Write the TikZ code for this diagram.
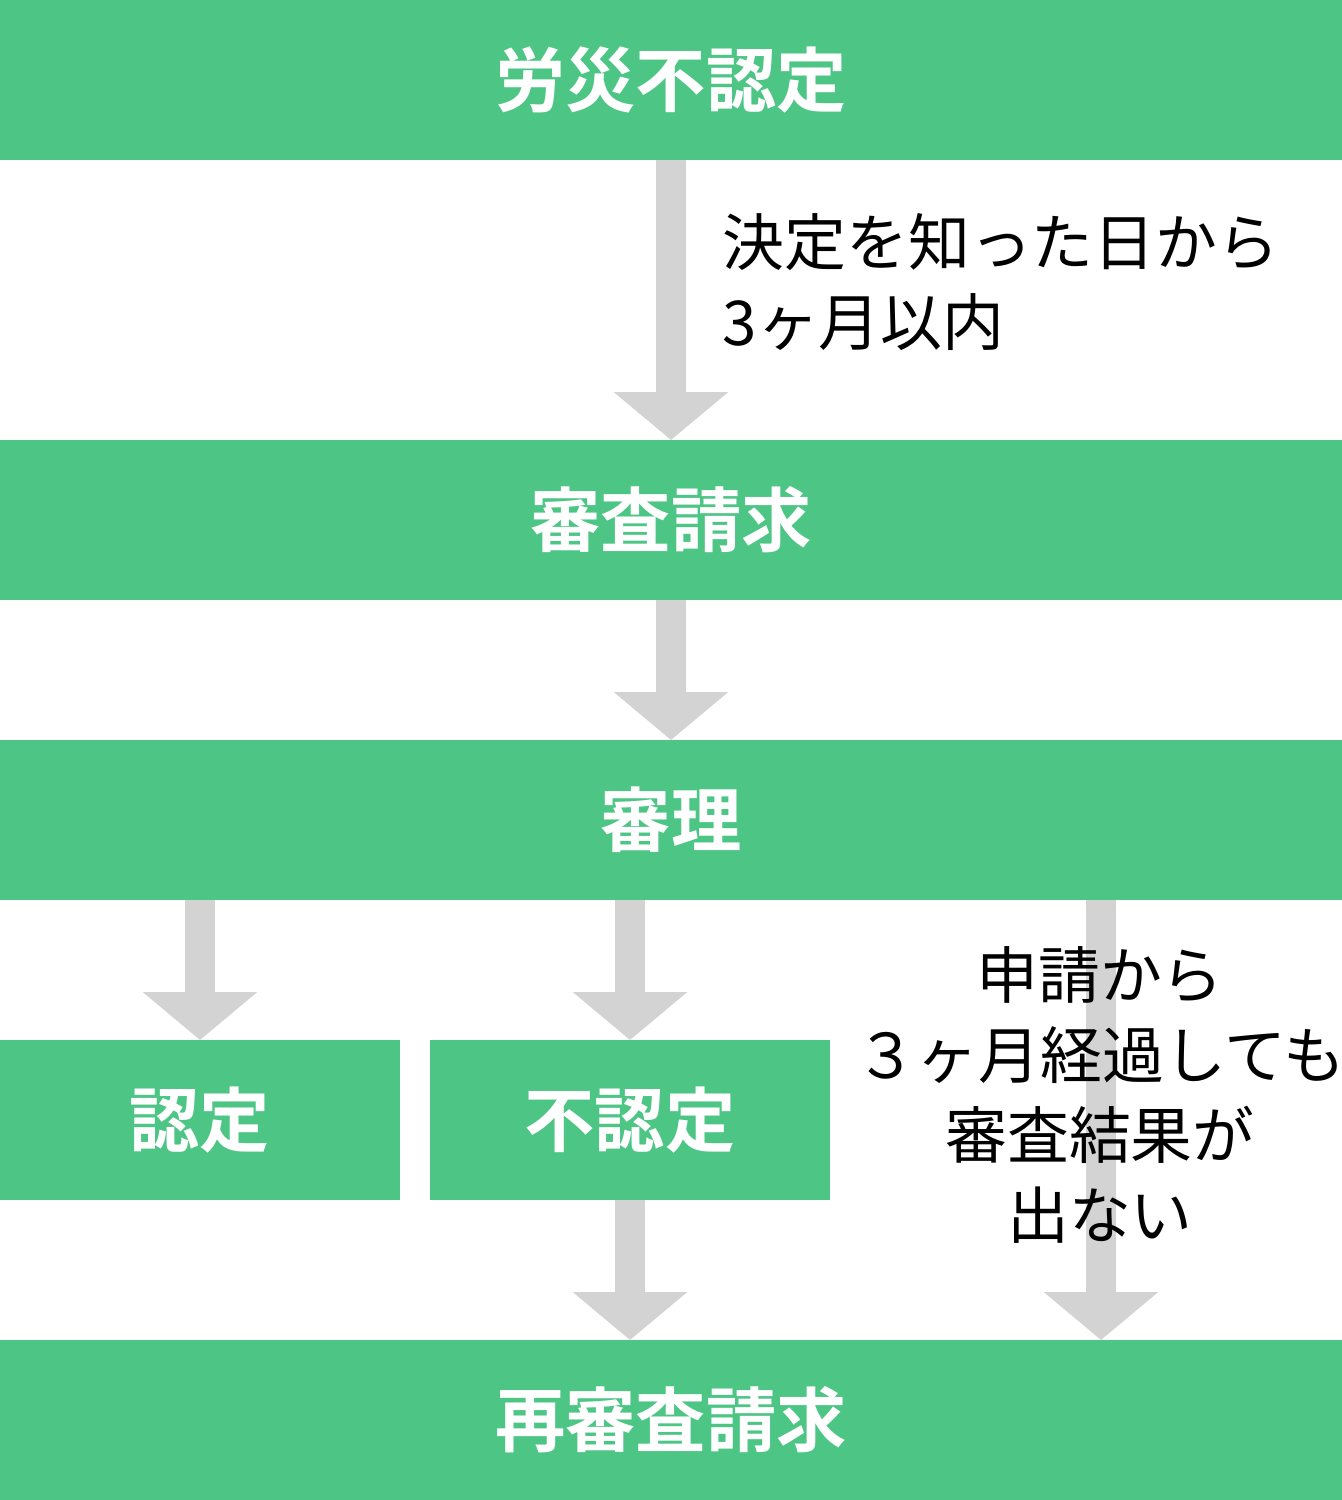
\documentclass[tikz,border=0pt]{standalone}
\usepackage{fontspec}
\setmainfont{Noto Sans CJK JP}[BoldFont={Noto Sans CJK JP Bold}]
\usepackage{tikz}
\usetikzlibrary{arrows.meta, positioning}
\definecolor{flowgreen}{RGB}{77, 198, 133}
\definecolor{flowgray}{RGB}{211, 211, 211}

\begin{document}
\begin{tikzpicture}[
        bar/.style={rectangle, fill=flowgreen, minimum width=13.42cm, minimum height=1.6cm, inner sep=0pt, outer sep=0pt, text=white, font=\bfseries\fontsize{20}{24}\selectfont},
        half/.style={bar, minimum width=4cm},
        note/.style={font=\fontsize{17.6}{22.8}\selectfont, inner sep=0pt},
        flow/.style={-{Triangle[width=1.12cm, length=0.48cm]}, line width=0.3cm, draw=flowgray}
    ]
        \useasboundingbox (0,0) rectangle (13.42,-15);
        \node[bar] (rosai) at (6.71,-0.8) {労災不認定};
        \node[bar, below=2.8cm of rosai] (shinsa) {審査請求};
        \node[bar, below=1.4cm of shinsa] (shinri) {審理};
        \node[half, below right=1.4cm and 0cm of shinri.south west] (nintei) {認定};
        \node[half, right=0.3cm of nintei] (funintei) {不認定};
        \node[bar, below=4.4cm of shinri] (saishinsa) {再審査請求};
        \coordinate (migi) at (11.01,-9);
        \draw[flow] (rosai) -- (shinsa);
        \draw[flow] (shinsa) -- (shinri);
        \draw[flow] (shinri.south -| nintei.north) -- (nintei.north);
        \draw[flow] (shinri.south -| funintei.north) -- (funintei.north);
        \draw[flow] (funintei.south) -- (saishinsa.north -| funintei.south);
        \draw[flow] (migi) -- (saishinsa.north -| migi);
        \node[note, anchor=west, align=left] (kigen) at (7.22,-2.82) {決定を知った日から\\3ヶ月以内};
        \node[note, align=center] (keika) at (11.0,-10.95) {申請から\\３ヶ月経過しても\\審査結果が\\出ない};
    \end{tikzpicture}
\end{document}
